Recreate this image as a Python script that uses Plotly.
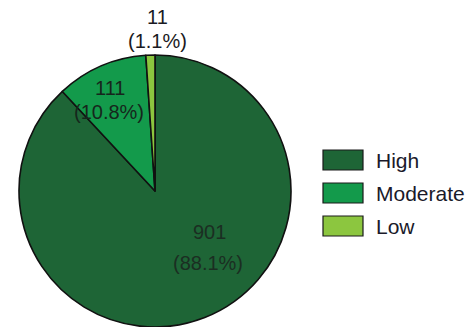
import math
import plotly.graph_objects as go

# Risk level counts
categories = ["High", "Moderate", "Low"]
counts = [901, 111, 11]
colors = ["#1e6536", "#139a4b", "#8cc63f"]

W, H = 471, 327
total = sum(counts)


def rounded_shares(values, decimals=1):
    """Percentages rounded with the largest-remainder method so they sum to 100."""
    scale = 10 ** decimals
    raw = [v / sum(values) * 100 * scale for v in values]
    floors = [math.floor(x) for x in raw]
    short = 100 * scale - sum(floors)
    order = sorted(range(len(raw)), key=lambda i: raw[i] - floors[i], reverse=True)
    for i in order[:short]:
        floors[i] += 1
    return [f / scale for f in floors]


pcts = rounded_shares(counts)


def px(x):
    return x / W


def py(y):
    return 1 - y / H


# Pie geometry (pixels): centre and radius
cx, cy, r = 155, 191, 136

fig = go.Figure(
    go.Pie(
        labels=categories,
        values=counts,
        marker=dict(colors=colors, line=dict(color="#111111", width=1.6)),
        sort=False,
        direction="clockwise",
        rotation=0,
        textinfo="none",
        hoverinfo="label+value+percent",
        showlegend=False,
        domain=dict(x=[px(cx - r), px(cx + r)], y=[py(cy + r), py(cy - r)]),
    )
)

FONT = "Liberation Sans, Arial, sans-serif"

# Value labels: count on the first line, percentage on the second
label_pos = {
    "High": ((209, 232), (208, 263)),
    "Moderate": ((110, 88), (109, 112)),
    "Low": ((157, 17), (157, 41)),
}
label_color = {"High": "#1b2e22", "Moderate": "#16261c", "Low": "#1a1a22"}
annotations = []
for cat, n, p in zip(categories, counts, pcts):
    (x1, y1), (x2, y2) = label_pos[cat]
    for text, x, y in ((f"{n}", x1, y1), (f"({p:.1f}%)", x2, y2)):
        annotations.append(
            dict(
                x=px(x), y=py(y), xref="paper", yref="paper",
                text=text, showarrow=False, xanchor="center", yanchor="middle",
                font=dict(family=FONT, size=20, color=label_color[cat]),
            )
        )

# Legend with wide swatches
shapes = []
legend_y = [160, 193, 226]
for cat, col, ly in zip(categories, colors, legend_y):
    shapes.append(
        dict(type="rect", xref="paper", yref="paper",
             x0=px(323), x1=px(363), y0=py(ly + 10), y1=py(ly - 10),
             fillcolor=col, line=dict(color="#1a1a1a", width=1.2))
    )
    annotations.append(
        dict(x=px(374), y=py(ly), xref="paper", yref="paper",
             text=cat, showarrow=False, xanchor="left", yanchor="middle",
             font=dict(family=FONT, size=21, color="#1a1a2a"))
    )

fig.update_layout(
    width=W, height=H,
    margin=dict(l=0, r=0, t=0, b=0),
    paper_bgcolor="white", plot_bgcolor="white",
    annotations=annotations, shapes=shapes,
)

fig.write_html("out.html")
